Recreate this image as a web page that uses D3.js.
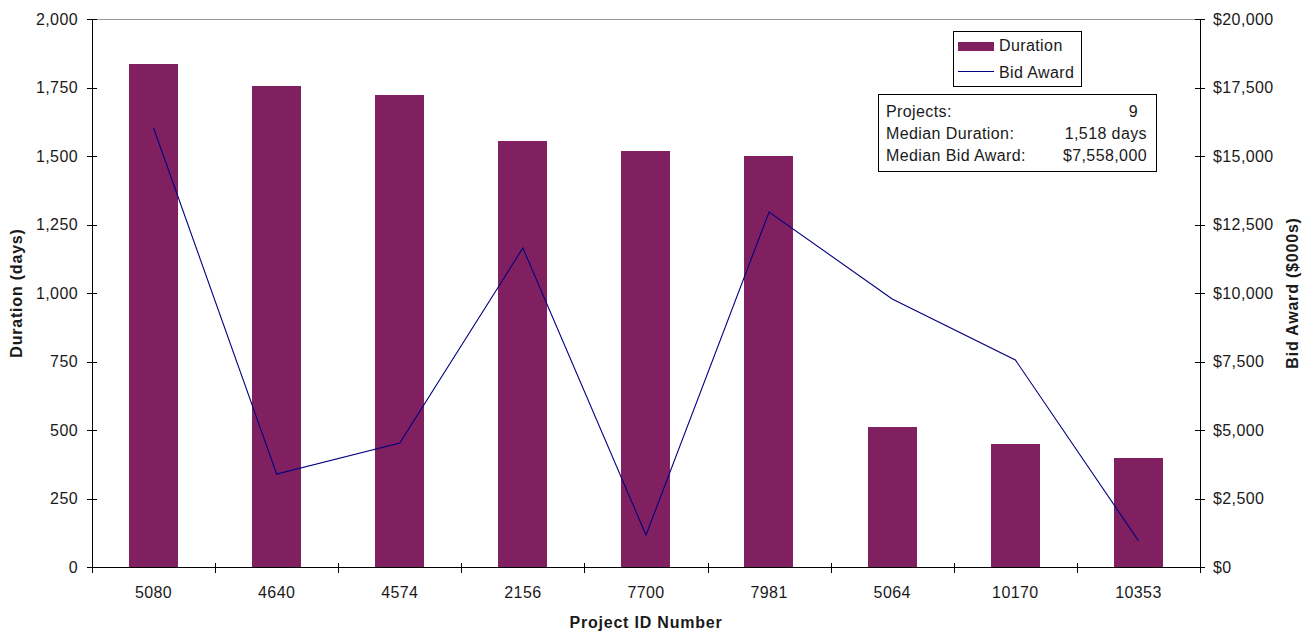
<!DOCTYPE html>
<html><head><meta charset="utf-8">
<script src="https://cdn.jsdelivr.net/npm/d3@7"></script>
<style>body{margin:0;background:#fff}svg{display:block}text{font-family:"Liberation Sans",Arial,sans-serif;fill:#1a1a1a;font-size:16px;letter-spacing:0.4px}</style>
</head><body><svg id="c" width="1314" height="633"></svg>
<script>
const categories = ["5080","4640","4574","2156","7700","7981","5064","10170","10353"];
const duration = [1835,1755,1723,1555,1518,1500,511,449,397];
const bidAward = [16022,3394,4525,11642,1168,12956,9781,7558,960];
const leftTicks = [0,250,500,750,1000,1250,1500,1750,2000];
const rightTicks = [0,2500,5000,7500,10000,12500,15000,17500,20000];
const statsLabels = ["Projects:","Median Duration:","Median Bid Award:"];
const statsValues = ["9","1,518 days","$7,558,000"];

const svg = d3.select("#c");
const L=92,R=1200,T=19,B=567;
const x = d3.scaleBand().domain(categories).range([L,R]).paddingInner(0.6).paddingOuter(0.3);
const y = d3.scaleLinear().domain([0,2000]).range([B,T]);
const y2 = d3.scaleLinear().domain([0,20000]).range([B,T]);
const barColor="#802060", lineColor="#000080";

svg.append("line").attr("x1",L).attr("x2",R).attr("y1",T+0.5).attr("y2",T+0.5).attr("stroke","#999");

svg.append("g").selectAll("rect").data(duration).join("rect")
  .attr("x",(d,i)=>Math.round(x(categories[i])))
  .attr("width",Math.round(x.bandwidth()))
  .attr("y",d=>Math.round(y(d)))
  .attr("height",d=>B-Math.round(y(d)))
  .attr("fill",barColor);

const line = d3.line().x((d,i)=>x(categories[i])+x.bandwidth()/2).y(d=>y2(d));
svg.append("path").datum(bidAward).attr("d",line).attr("fill","none").attr("stroke",lineColor).attr("stroke-width",1.1);

const gl = svg.append("g");
gl.append("line").attr("x1",L+0.5).attr("x2",L+0.5).attr("y1",T).attr("y2",B+6).attr("stroke","#000");
gl.selectAll("line.t").data(leftTicks).join("line").attr("class","t")
  .attr("x1",L-5).attr("x2",L+5).attr("y1",d=>Math.round(y(d))+0.5).attr("y2",d=>Math.round(y(d))+0.5).attr("stroke","#000");
gl.selectAll("text").data(leftTicks).join("text")
  .attr("x",78).attr("y",d=>y(d)+5.5).attr("text-anchor","end")
  .text(d=>d3.format(",")(d));

const gr = svg.append("g");
gr.append("line").attr("x1",R+0.5).attr("x2",R+0.5).attr("y1",T).attr("y2",B+6).attr("stroke","#000");
gr.selectAll("line.t").data(rightTicks).join("line").attr("class","t")
  .attr("x1",R-5).attr("x2",R+5).attr("y1",d=>Math.round(y2(d))+0.5).attr("y2",d=>Math.round(y2(d))+0.5).attr("stroke","#000");
gr.selectAll("text").data(rightTicks).join("text")
  .attr("x",1213).attr("y",d=>y2(d)+5.5).attr("text-anchor","start")
  .text(d=>"$"+d3.format(",")(d));

const gb = svg.append("g");
gb.append("line").attr("x1",L-5).attr("x2",R+5).attr("y1",B+0.5).attr("y2",B+0.5).attr("stroke","#000");
const bounds = categories.map((c,i)=>L+(R-L)*i/categories.length).concat([R]);
gb.selectAll("line.t").data(bounds).join("line").attr("class","t")
  .attr("x1",d=>Math.round(d)+0.5).attr("x2",d=>Math.round(d)+0.5).attr("y1",B-4).attr("y2",B+6).attr("stroke","#000");
gb.selectAll("text").data(categories).join("text")
  .attr("x",d=>x(d)+x.bandwidth()/2).attr("y",598).attr("text-anchor","middle").text(d=>d);

svg.append("text").attr("x",646).attr("y",628).attr("text-anchor","middle").attr("font-weight","bold").style("letter-spacing","0.8px").text("Project ID Number");
svg.append("text").attr("transform","translate(22,293) rotate(-90)").attr("text-anchor","middle").attr("font-weight","bold").style("letter-spacing","0.8px").text("Duration (days)");
svg.append("text").attr("transform","translate(1298,293) rotate(-90)").attr("text-anchor","middle").attr("font-weight","bold").style("letter-spacing","0.8px").text("Bid Award ($000s)");

const lg = svg.append("g");
lg.append("rect").attr("x",953.5).attr("y",31.5).attr("width",128).attr("height",55).attr("fill","#fff").attr("stroke","#000");
lg.append("rect").attr("x",958).attr("y",42).attr("width",36).attr("height",9).attr("fill",barColor);
lg.append("text").attr("x",999).attr("y",51).text("Duration");
lg.append("line").attr("x1",958).attr("x2",994).attr("y1",71.5).attr("y2",71.5).attr("stroke",lineColor);
lg.append("text").attr("x",999).attr("y",78).text("Bid Award");

const sb = svg.append("g");
sb.append("rect").attr("x",878.5).attr("y",94.5).attr("width",278).attr("height",77).attr("fill","#fff").attr("stroke","#000");
sb.selectAll("text.l").data(statsLabels).join("text").attr("class","l")
  .attr("x",886).attr("y",(d,i)=>117+i*22).text(d=>d);
sb.selectAll("text.v").data(statsValues).join("text").attr("class","v")
  .attr("x",(d,i)=>i===0?1138:1147).attr("y",(d,i)=>117+i*22).attr("text-anchor","end").text(d=>d);
</script></body></html>
